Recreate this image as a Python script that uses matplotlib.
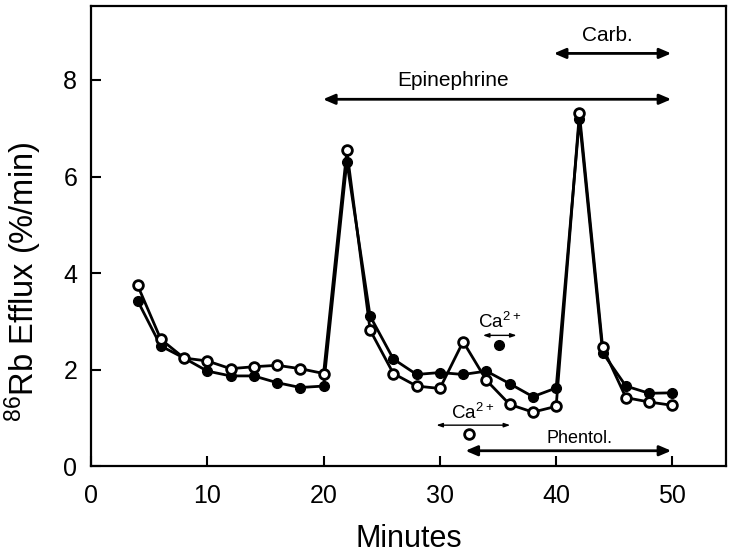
import matplotlib
matplotlib.use("Agg")
import matplotlib.pyplot as plt

plt.rcParams["font.family"] = ["Liberation Sans", "DejaVu Sans"]
plt.rcParams["mathtext.default"] = "regular"

# time points (minutes)
minutes = [4, 6, 8, 10, 12, 14, 16, 18, 20, 22, 24, 26,
           28, 30, 32, 34, 36, 38, 40, 42, 44, 46, 48, 50]

# filled circles
efflux_filled = [3.43, 2.49, 2.24, 1.97, 1.87, 1.87, 1.73, 1.63, 1.66, 6.31, 3.11, 2.22,
                 1.90, 1.94, 1.90, 1.97, 1.71, 1.44, 1.62, 7.19, 2.35, 1.66, 1.51, 1.52]

# open circles
efflux_open = [3.75, 2.63, 2.24, 2.18, 2.02, 2.06, 2.09, 2.02, 1.92, 6.54, 2.82, 1.92,
               1.66, 1.61, 2.58, 1.78, 1.28, 1.12, 1.24, 7.31, 2.46, 1.42, 1.33, 1.26]

# single Ca2+ points
ca_filled_pt = (35.1, 2.51)
ca_open_pt = (32.5, 0.66)

# treatment bars: (label, start, end, y of arrow, text x, text y)
bold_bars = [
    ("Epinephrine", 19.95, 49.9, 7.60, 31.1, 7.98),
    ("Carb.", 39.8, 49.9, 8.55, 44.4, 8.93),
    ("Phentol.", 32.2, 49.9, 0.32, 42.0, 0.58),
]
thin_bars = [
    ("Ca$^{2+}$", 33.7, 36.6, 2.71, 35.1, 2.98),
    ("Ca$^{2+}$", 29.7, 36.05, 0.85, 32.8, 1.10),
]

fig = plt.figure(figsize=(7.34, 5.55), dpi=100)
ax = fig.add_axes([0.124, 0.160, 0.865, 0.829])

ax.plot(minutes, efflux_filled, color="black", linewidth=2, marker="o",
        markersize=7, markerfacecolor="black", markeredgecolor="black", zorder=3)
ax.plot(minutes, efflux_open, color="black", linewidth=2, marker="o",
        markersize=7, markerfacecolor="white", markeredgecolor="black",
        markeredgewidth=2.0, zorder=4)

ax.plot(*ca_filled_pt, marker="o", markersize=7, color="black", linestyle="none")
ax.plot(*ca_open_pt, marker="o", markersize=7, markerfacecolor="white",
        markeredgecolor="black", markeredgewidth=2.0, linestyle="none")

for label, x0, x1, y, tx, ty in bold_bars:
    ax.annotate("", xy=(x1, y), xytext=(x0, y),
                arrowprops=dict(arrowstyle="<|-|>,head_length=0.7,head_width=0.3",
                                color="black", linewidth=2, shrinkA=0, shrinkB=0))
    fs = 13 if label == "Phentol." else 15
    ax.text(tx, ty, label, ha="center", va="center", fontsize=fs)

for label, x0, x1, y, tx, ty in thin_bars:
    ax.annotate("", xy=(x1, y), xytext=(x0, y),
                arrowprops=dict(arrowstyle="<|-|>,head_length=0.35,head_width=0.12",
                                color="black", linewidth=1, shrinkA=0, shrinkB=0))
    ax.text(tx, ty, label, ha="center", va="center", fontsize=13.5)

ax.set_xlim(0, 54.6)
ax.set_ylim(0, 9.53)
ax.set_xticks([0, 10, 20, 30, 40, 50])
ax.set_yticks([0, 2, 4, 6, 8])
ax.tick_params(direction="in", length=7, width=1.5, labelsize=18)
ax.tick_params(axis="x", pad=13)
ax.tick_params(axis="y", pad=10)
for spine in ax.spines.values():
    spine.set_linewidth(1.6)

ax.set_xlabel("Minutes", fontsize=22, labelpad=11)
ax.set_ylabel("$^{86}$Rb Efflux (%/min)", fontsize=23.5)
ax.yaxis.set_label_coords(-0.074, 0.40)

fig.savefig("out.png", dpi=100)
